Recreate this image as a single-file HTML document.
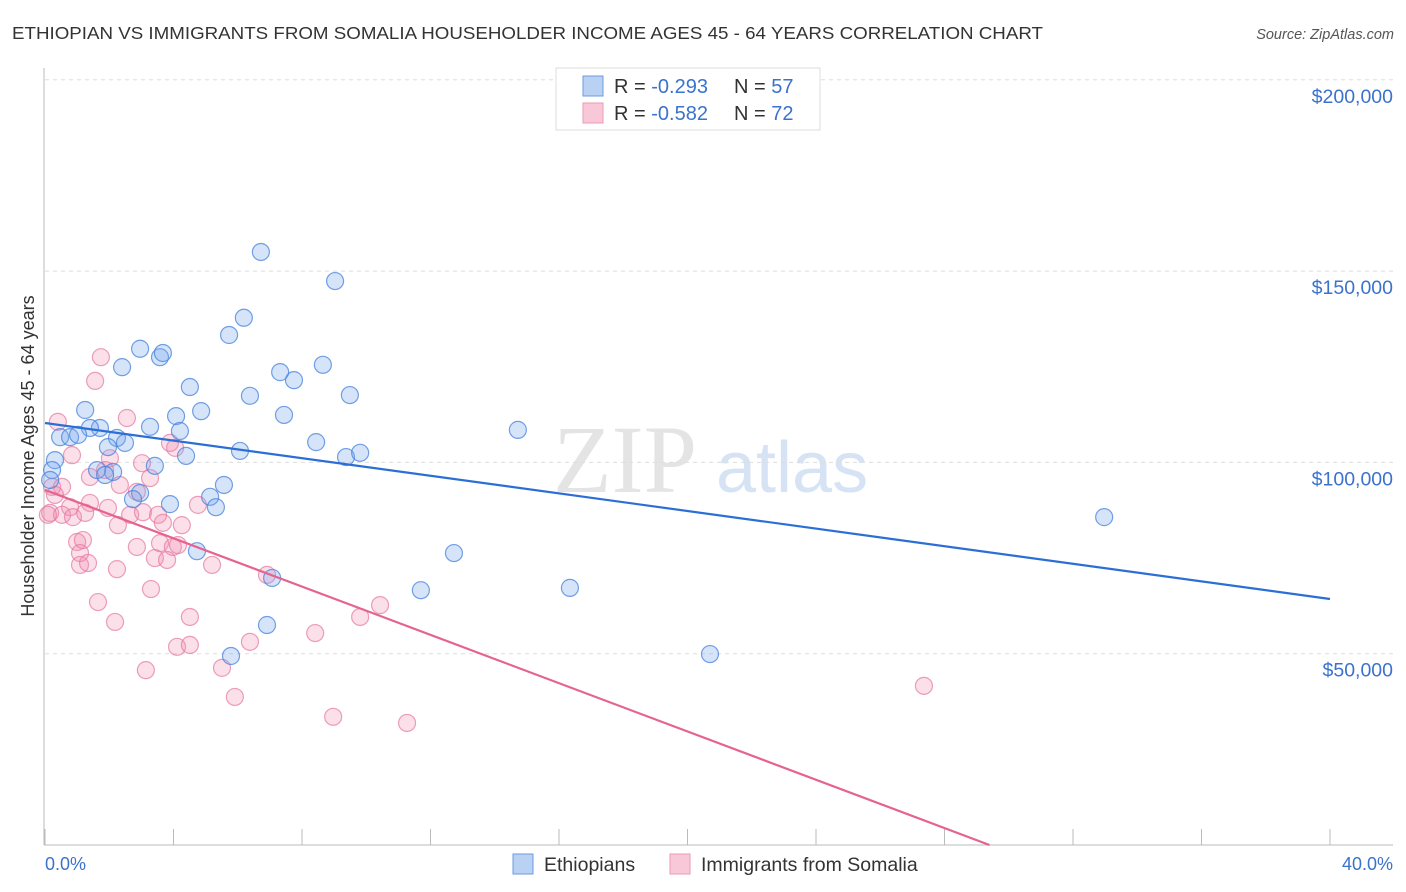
<!DOCTYPE html>
<html><head><meta charset="utf-8"><style>
body{margin:0;background:#fff;font-family:"Liberation Sans",sans-serif;}
svg{display:block}
</style></head><body>
<svg id="chart" width="1406" height="892">
<text x="12" y="39" font-size="17.5" fill="#333" textLength="1031" lengthAdjust="spacingAndGlyphs">ETHIOPIAN VS IMMIGRANTS FROM SOMALIA HOUSEHOLDER INCOME AGES 45 - 64 YEARS CORRELATION CHART</text>
<text x="1394" y="39" font-size="14.5" fill="#555" font-style="italic" text-anchor="end">Source: ZipAtlas.com</text>
<g>
<text x="553" y="492" font-size="96" font-family="Liberation Serif,serif" fill="#e4e4e4">ZIP</text>
<text x="716" y="492" font-size="72" fill="#d6e3f5">atlas</text>
</g>
<g id="grid"></g>
<g id="axes"></g>
<g id="pts"></g>
<g id="lines"></g>
<text transform="translate(34,456) rotate(-90)" font-size="18" fill="#333" text-anchor="middle">Householder Income Ages 45 - 64 years</text>
<text x="45" y="870" font-size="18" fill="#3b72cc">0.0%</text>
<text x="1393" y="870" font-size="18" fill="#3b72cc" text-anchor="end">40.0%</text>
<g>
<rect x="556" y="68" width="264" height="62" fill="#fff" stroke="#ddd"/>
<rect x="583" y="76" width="20" height="20" fill="#b9d2f4" stroke="#6b9be0"/>
<rect x="583" y="103" width="20" height="20" fill="#f9c8d8" stroke="#eb9ab6"/>
<text x="614" y="93" font-size="20" fill="#333">R = <tspan fill="#3b72cc">-0.293</tspan></text>
<text x="734" y="93" font-size="20" fill="#333">N = <tspan fill="#3b72cc">57</tspan></text>
<text x="614" y="120" font-size="20" fill="#333">R = <tspan fill="#3b72cc">-0.582</tspan></text>
<text x="734" y="120" font-size="20" fill="#333">N = <tspan fill="#3b72cc">72</tspan></text>
</g>
<g>
<rect x="513" y="854" width="20" height="20" fill="#b9d2f4" stroke="#6b9be0"/>
<text x="544" y="871" font-size="19.5" fill="#333">Ethiopians</text>
<rect x="670" y="854" width="20" height="20" fill="#f9c8d8" stroke="#eb9ab6"/>
<text x="701" y="871" font-size="19.5" fill="#333">Immigrants from Somalia</text>
</g>
</svg>
<script>
const yTicks=[50000,100000,150000,200000];
const yTickLabels=["$50,000","$100,000","$150,000","$200,000"];
const xTicks=[0,4,8,12,16,20,24,28,32,36,40];
const blueX=[6.72,9.03,6.19,5.73,2.96,3.58,3.67,2.40,7.32,4.51,7.75,8.65,9.49,6.38,1.25,4.86,4.08,7.44,3.27,4.20,14.72,1.71,1.40,0.47,0.78,2.24,2.49,1.96,6.07,4.39,8.44,9.37,9.81,3.42,0.31,2.12,1.62,2.96,5.57,5.14,5.32,3.89,2.74,12.73,4.73,32.97,11.70,16.34,7.07,6.91,20.70,5.79,0.22,0.16,1.03,1.87];
const blueY=[155.0,147.4,137.8,133.3,129.7,127.5,128.6,124.9,123.6,119.7,121.5,125.5,117.6,117.4,113.7,113.4,112.1,112.4,109.3,108.2,108.5,109.0,109.0,106.6,106.6,106.4,105.1,104.0,103.0,101.7,105.3,101.4,102.5,99.1,100.6,97.5,98.0,92.0,94.1,91.0,88.3,89.1,90.4,76.3,76.8,85.7,66.6,67.2,69.8,57.5,49.9,49.4,98.0,95.4,107.2,96.7];
const pinkX=[1.74,1.56,0.40,2.55,3.89,4.05,0.84,2.02,3.02,3.27,1.40,1.87,0.53,0.22,2.33,2.86,1.40,1.96,0.78,0.16,0.53,0.87,1.25,2.65,3.05,3.52,3.67,4.26,4.76,2.27,1.00,1.18,1.09,2.86,3.58,3.98,4.14,3.42,3.80,1.09,1.34,2.24,5.20,6.91,3.30,1.65,2.18,4.51,4.11,4.51,6.38,8.41,9.81,3.14,5.51,5.91,8.97,10.43,27.36,11.27,0.09,0.31];
const pinkY=[127.5,121.3,110.6,111.6,105.1,103.8,101.9,101.1,99.8,95.9,96.2,98.0,93.6,93.6,94.1,92.3,89.4,88.1,88.3,86.8,86.3,85.7,86.8,86.3,87.0,86.3,84.2,83.6,88.9,83.6,79.2,79.7,76.3,77.9,78.9,77.9,78.4,75.0,74.5,73.2,73.7,72.1,73.2,70.6,66.9,63.5,58.3,59.6,51.8,52.3,53.1,55.4,59.6,45.7,46.3,38.7,33.5,62.7,41.6,31.9,86.3,91.5];
const blueLine=[[0,110.3],[40,64.3]];
const pinkLine=[[0,92.8],[29.4,0]];
const NS="http://www.w3.org/2000/svg";
const X=v=>45+v/40*1285;
const Y=v=>845-v/50000*191.3;
const Yk=v=>Y(v*1000);
function mk(tag,attrs,parent){const e=document.createElementNS(NS,tag);for(const k in attrs)e.setAttribute(k,attrs[k]);document.getElementById(parent).appendChild(e);return e;}
yTicks.forEach((t,i)=>{
 const l=mk('line',{x1:45,x2:1393,y1:Y(t),y2:Y(t),stroke:'#ddd','stroke-dasharray':'4,4'},'grid');
 
 
 const tx=mk('text',{x:1393,y:Y(t)+23,'font-size':19.5,fill:'#3b72cc','text-anchor':'end'},'grid');
 tx.textContent=yTickLabels[i];
 
 
});
const ax=mk('line',{x1:44,x2:44,y1:68,y2:845,stroke:'#bbb'},'axes');


const bx=mk('line',{x1:44,x2:1393,y1:845,y2:845,stroke:'#bbb'},'axes');


xTicks.forEach(t=>{const l=mk('line',{x1:X(t),x2:X(t),y1:829,y2:845,stroke:'#bbb'},'axes');
 
 });
pinkX.forEach((x,i)=>{const c=mk('circle',{cx:X(x),cy:Yk(pinkY[i]),r:8.5,fill:'rgba(240,140,175,0.28)',stroke:'rgba(230,120,160,0.7)','stroke-width':1.2},'pts');
 
 });
blueX.forEach((x,i)=>{const c=mk('circle',{cx:X(x),cy:Yk(blueY[i]),r:8.5,fill:'rgba(120,165,235,0.3)',stroke:'rgba(70,130,220,0.75)','stroke-width':1.2},'pts');
 
 });
const bl=mk('line',{x1:X(blueLine[0][0]),y1:Yk(blueLine[0][1]),x2:X(blueLine[1][0]),y2:Yk(blueLine[1][1]),stroke:'#2b6fd6','stroke-width':2.2},'lines');


const pl=mk('line',{x1:X(pinkLine[0][0]),y1:Yk(pinkLine[0][1]),x2:X(pinkLine[1][0]),y2:Yk(pinkLine[1][1]),stroke:'#e5638f','stroke-width':2.2},'lines');


</script>
</body></html>
